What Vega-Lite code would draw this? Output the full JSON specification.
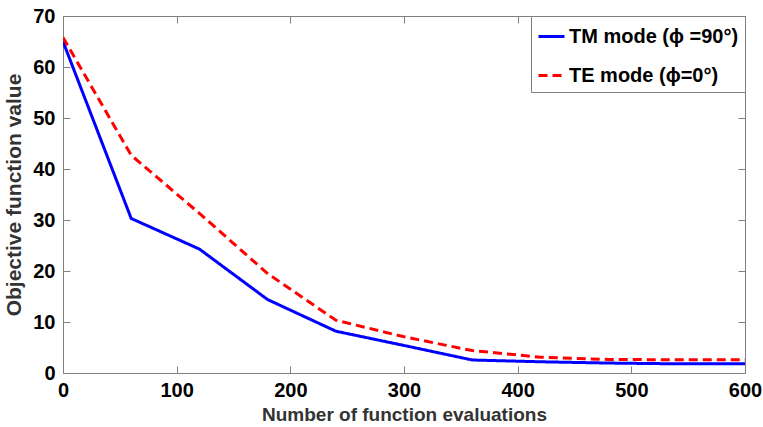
{
  "$schema": "https://vega.github.io/schema/vega-lite/v6.json",
  "width": 682,
  "height": 357,
  "autosize": "none",
  "padding": {"left": 63, "top": 16, "right": 18, "bottom": 54},
  "background": "white",
  "config": {
    "view": {"stroke": "#808080", "strokeWidth": 1},
    "axis": {
      "domain": false,
      "grid": false,
      "tickSize": -7,
      "tickColor": "#808080",
      "tickWidth": 1,
      "labelFont": "Liberation Sans",
      "labelFontSize": 20,
      "labelFontWeight": "bold",
      "labelColor": "black",
      "labelFlush": false,
      "titleColor": "#333333",
      "titleFontWeight": "bold"
    },
    "legend": {
      "orient": "top-right",
      "offset": 0,
      "strokeColor": "#808080",
      "fillColor": "white",
      "padding": 6,
      "cornerRadius": 0,
      "labelFont": "Liberation Sans",
      "labelFontSize": 20,
      "labelFontWeight": "bold",
      "labelColor": "black",
      "labelLimit": 400,
      "labelOffset": 3,
      "symbolType": "stroke",
      "symbolSize": 676,
      "symbolStrokeWidth": 3,
      "rowPadding": 14
    }
  },
  "data": {
    "values": [
      {"evals": 0, "value": 65.0, "mode": "TM mode (ϕ =90°)"},
      {"evals": 60, "value": 30.3, "mode": "TM mode (ϕ =90°)"},
      {"evals": 120, "value": 24.3, "mode": "TM mode (ϕ =90°)"},
      {"evals": 180, "value": 14.4, "mode": "TM mode (ϕ =90°)"},
      {"evals": 240, "value": 8.2, "mode": "TM mode (ϕ =90°)"},
      {"evals": 300, "value": 5.4, "mode": "TM mode (ϕ =90°)"},
      {"evals": 360, "value": 2.55, "mode": "TM mode (ϕ =90°)"},
      {"evals": 420, "value": 2.2, "mode": "TM mode (ϕ =90°)"},
      {"evals": 480, "value": 1.95, "mode": "TM mode (ϕ =90°)"},
      {"evals": 540, "value": 1.8, "mode": "TM mode (ϕ =90°)"},
      {"evals": 600, "value": 1.8, "mode": "TM mode (ϕ =90°)"},
      {"evals": 0, "value": 65.8, "mode": "TE mode (ϕ=0°)"},
      {"evals": 60, "value": 42.7, "mode": "TE mode (ϕ=0°)"},
      {"evals": 120, "value": 31.3, "mode": "TE mode (ϕ=0°)"},
      {"evals": 180, "value": 19.5, "mode": "TE mode (ϕ=0°)"},
      {"evals": 240, "value": 10.35, "mode": "TE mode (ϕ=0°)"},
      {"evals": 300, "value": 7.1, "mode": "TE mode (ϕ=0°)"},
      {"evals": 360, "value": 4.4, "mode": "TE mode (ϕ=0°)"},
      {"evals": 420, "value": 3.1, "mode": "TE mode (ϕ=0°)"},
      {"evals": 480, "value": 2.65, "mode": "TE mode (ϕ=0°)"},
      {"evals": 540, "value": 2.6, "mode": "TE mode (ϕ=0°)"},
      {"evals": 600, "value": 2.6, "mode": "TE mode (ϕ=0°)"}
    ]
  },
  "layer": [
    {
      "mark": {"type": "line", "strokeWidth": 3, "clip": true},
      "encoding": {
        "x": {
          "field": "evals", "type": "quantitative",
          "scale": {"domain": [0, 600], "nice": false, "zero": false},
          "axis": {
            "orient": "bottom",
            "values": [0, 100, 200, 300, 400, 500, 600],
            "labelPadding": 14,
            "title": "Number of function evaluations",
            "titleFont": "Liberation Sans",
            "titleFontSize": 19,
            "titlePadding": 5
          }
        },
        "y": {
          "field": "value", "type": "quantitative",
          "scale": {"domain": [0, 70], "nice": false},
          "axis": {
            "orient": "left",
            "values": [0, 10, 20, 30, 40, 50, 60, 70],
            "labelPadding": 15,
            "title": "Objective function value",
            "titleFont": "Liberation Sans",
            "titleFontSize": 21,
            "titlePadding": 8
          }
        },
        "color": {
          "field": "mode", "type": "nominal",
          "scale": {"domain": ["TM mode (ϕ =90°)", "TE mode (ϕ=0°)"], "range": ["#0000ff", "#ff0000"]},
          "legend": {"title": null}
        },
        "strokeDash": {
          "field": "mode", "type": "nominal",
          "scale": {"domain": ["TM mode (ϕ =90°)", "TE mode (ϕ=0°)"], "range": [[1, 0], [9, 5]]},
          "legend": {"title": null}
        }
      }
    },
    {
      "mark": {"type": "line", "opacity": 0},
      "encoding": {
        "x": {
          "field": "evals", "type": "quantitative",
          "axis": {"orient": "top", "values": [0, 100, 200, 300, 400, 500, 600], "labels": false, "title": null}
        },
        "y": {
          "field": "value", "type": "quantitative",
          "axis": {"orient": "right", "values": [0, 10, 20, 30, 40, 50, 60, 70], "labels": false, "title": null}
        },
        "detail": {"field": "mode"}
      }
    }
  ],
  "resolve": {"axis": {"x": "independent", "y": "independent"}}
}
